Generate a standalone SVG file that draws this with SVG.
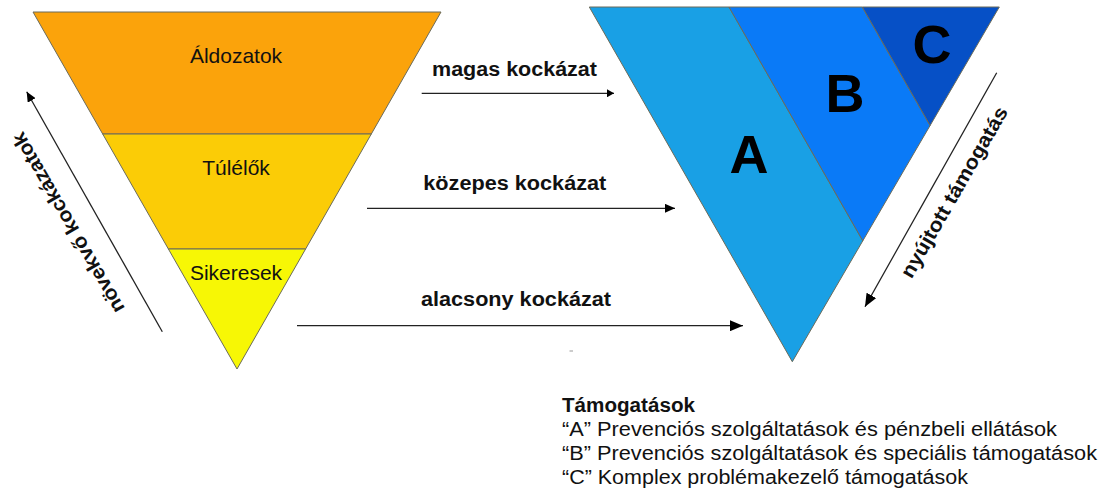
<svg xmlns="http://www.w3.org/2000/svg" width="1103" height="495" viewBox="0 0 1103 495">
<defs>
<style>
.band{stroke:#6b6b5a;stroke-width:1}
.lbl{font-family:"Liberation Sans",Arial,sans-serif;font-size:21px;fill:#111}
.bold{font-family:"Liberation Sans",Arial,sans-serif;font-size:20px;font-weight:bold;fill:#111}
.big{font-family:"Liberation Sans",Arial,sans-serif;font-size:54px;font-weight:bold;fill:#000;text-anchor:middle}
.leg{font-family:"Liberation Sans",Arial,sans-serif;font-size:20px;fill:#111}
.conn{stroke:#222;stroke-width:1.3;fill:none}
</style>
<marker id="arrL" markerUnits="userSpaceOnUse" markerWidth="13" markerHeight="11" refX="13" refY="5.5" orient="auto"><path d="M0,0 L13,5.5 L0,11 z" fill="#000"/></marker>
<marker id="arrM" markerUnits="userSpaceOnUse" markerWidth="10" markerHeight="9" refX="10" refY="4.5" orient="auto"><path d="M0,0 L10,4.5 L0,9 z" fill="#000"/></marker>
<marker id="arrS" markerUnits="userSpaceOnUse" markerWidth="7" markerHeight="8" refX="7" refY="4" orient="auto"><path d="M0,0 L7,4 L0,8 z" fill="#000"/></marker>
</defs>
<rect width="1103" height="495" fill="#fff"/>

<g id="risk-pyramid">
<g id="aldozatok">
<polygon class="band" points="33,12 441,12 371.3,134 102.7,134" fill="#FBA30B"/>
<text class="lbl" x="236" y="62.5" text-anchor="middle">Áldozatok</text>
</g>
<g id="tulelok">
<polygon class="band" points="102.7,134 371.3,134 305.6,249 168.4,249" fill="#FBCC06"/>
<text class="lbl" x="236" y="175" text-anchor="middle">Túlélők</text>
</g>
<g id="sikeresek">
<polygon class="band" points="168.4,249 305.6,249 237,369" fill="#F7F705"/>
<text class="lbl" x="236" y="280" text-anchor="middle">Sikeresek</text>
</g>
</g>

<g id="support-pyramid">
<g id="band-A">
<polygon class="band" points="589.3,7 729,7 862.8,240.8 792.3,361.7" fill="#19A0E5"/>
<text class="big" x="749" y="172.5">A</text>
</g>
<g id="band-B">
<polygon class="band" points="729,7 862.3,7 930.1,125.5 862.8,240.8" fill="#0A7AF7"/>
<text class="big" x="845" y="112">B</text>
</g>
<g id="band-C">
<polygon class="band" points="862.3,7 999.3,7 930.1,125.5" fill="#0650C6"/>
<text class="big" x="932" y="63">C</text>
</g>
</g>

<g id="connectors">
<path class="conn" d="M421.7,93.3 H614" marker-end="url(#arrS)"/>
<path class="conn" d="M367,208.3 H675" marker-end="url(#arrM)"/>
<path class="conn" d="M297,325.7 H743" marker-end="url(#arrL)"/>
<path class="conn" d="M162.3,331.7 L26.7,91.7" marker-end="url(#arrM)"/>
<path class="conn" d="M996.7,72.7 L865,306.7" marker-end="url(#arrL)"/>
<line x1="569.5" y1="351" x2="573" y2="351" stroke="#999" stroke-width="1"/>
</g>

<g id="labels">
<text class="bold" x="432" y="76" textLength="165" lengthAdjust="spacingAndGlyphs">magas kockázat</text>
<text class="bold" x="423.3" y="190" textLength="183" lengthAdjust="spacingAndGlyphs">közepes kockázat</text>
<text class="bold" x="421" y="306" textLength="190" lengthAdjust="spacingAndGlyphs">alacsony kockázat</text>
<text class="bold" transform="translate(68,223) rotate(-120)" x="0" y="7" text-anchor="middle" textLength="205" lengthAdjust="spacingAndGlyphs">növekvő kockázatok</text>
<text class="bold" transform="translate(954,192) rotate(-60)" x="0" y="7" text-anchor="middle" textLength="194" lengthAdjust="spacingAndGlyphs">nyújtott támogatás</text>
</g>

<g id="legend">
<text class="bold" x="562" y="411.5" textLength="133" lengthAdjust="spacingAndGlyphs">Támogatások</text>
<text class="leg" x="562" y="436" textLength="495" lengthAdjust="spacingAndGlyphs">“A” Prevenciós szolgáltatások és pénzbeli ellátások</text>
<text class="leg" x="562" y="460" textLength="535" lengthAdjust="spacingAndGlyphs">“B” Prevenciós szolgáltatások és speciális támogatások</text>
<text class="leg" x="562" y="484" textLength="406" lengthAdjust="spacingAndGlyphs">“C” Komplex problémakezelő támogatások</text>
</g>
</svg>
